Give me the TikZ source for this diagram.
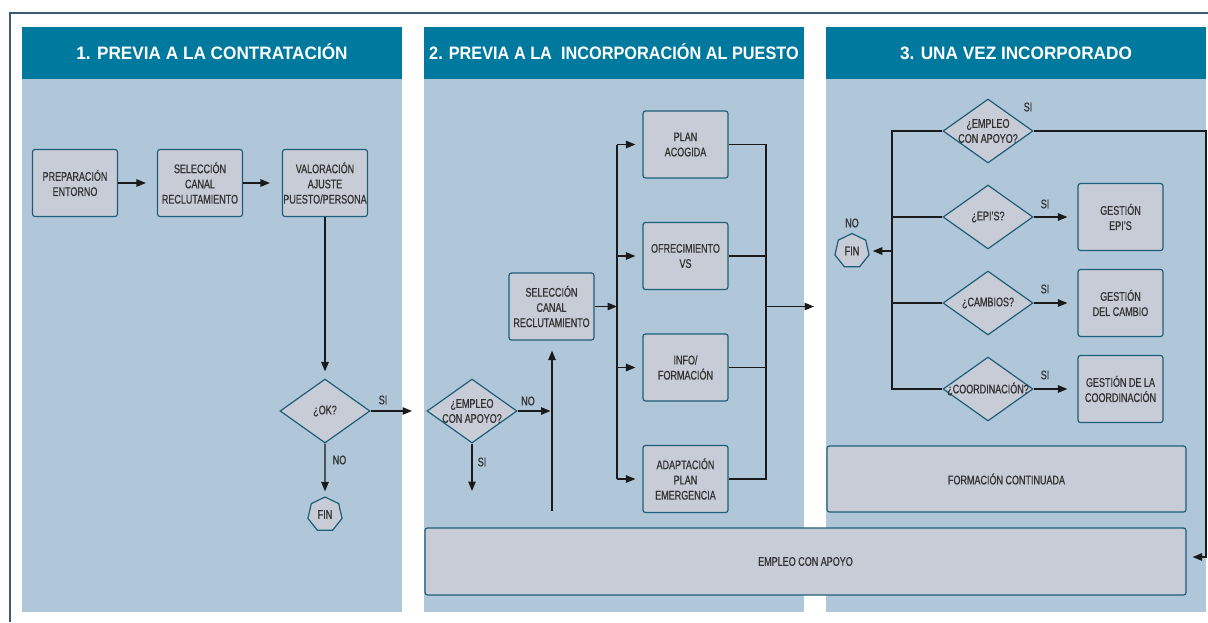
\documentclass[tikz,border=0pt]{standalone}
\usepackage{fontspec}
\setmainfont{Liberation Sans}[FakeStretch=0.72,FakeBold=0.6]
\newfontfamily\hdrfont{Liberation Sans}[FakeStretch=0.955]
\newfontfamily\hdrfontn{Liberation Sans}[FakeStretch=0.905]
\usetikzlibrary{arrows.meta,shapes.geometric,calc}
\definecolor{hdr}{HTML}{00799F}
\definecolor{panel}{HTML}{B0C7DA}
\definecolor{boxfill}{HTML}{C8CCD6}
\definecolor{boxline}{HTML}{1E5E79}
\definecolor{txt}{HTML}{333333}
\definecolor{framec}{HTML}{3F5B73}
\definecolor{connc}{HTML}{1A1A1A}
\tikzset{
 box/.style={draw=boxline, fill=boxfill, line width=1.2pt, rounded corners=2.5pt,
   minimum width=85pt, minimum height=67pt, align=center, text=txt,
   font=\fontsize{12.5}{15.2}\selectfont, inner sep=0pt},
 dia/.style={diamond, draw=boxline, fill=boxfill, line width=1.2pt,
   minimum width=90pt, minimum height=64pt, inner sep=0pt},
 dtext/.style={text=txt, align=center, font=\fontsize{12.5}{15}\selectfont, inner sep=0pt},
 finnode/.style={regular polygon, regular polygon sides=7, draw=boxline, fill=boxfill,
   line width=1.2pt, minimum size=35pt, inner sep=0pt, text=txt, font=\fontsize{12.5}{14}\selectfont},
 lbl/.style={text=txt, font=\fontsize{12.5}{14}\selectfont, inner sep=0pt},
 conn/.style={draw=connc, line width=1.3pt},
 arr/.style={conn, -{Triangle[length=9.5pt,width=7.5pt]}},
 hdrbox/.style={fill=hdr, minimum width=380pt, minimum height=52pt, inner sep=0pt,
   text=white, text height=12.9pt, text depth=0pt},
}
\begin{document}
\begin{tikzpicture}[x=1pt,y=-1pt]
\useasboundingbox (0,0) rectangle (1208,622);
\fill[white] (0,0) rectangle (1208,622);
% frame
\draw[framec, line width=2pt] (10,622) -- (10,12.5) -- (1208,12.5);
% panels
\fill[panel] (22,79) rectangle (402,611.5);
\fill[panel] (424,79) rectangle (804,611.5);
\fill[panel] (826,79) rectangle (1206,611.5);
\node[hdrbox, font=\hdrfont\bfseries\fontsize{18}{20}\selectfont] (h1) at (212,53) {1. PREVIA A LA CONTRATACIÓN};
\node[hdrbox, font=\hdrfontn\bfseries\fontsize{18}{20}\selectfont] (h2) at (614,53) {2. PREVIA A LA\ \ INCORPORACIÓN AL PUESTO};
\node[hdrbox, font=\hdrfont\bfseries\fontsize{18}{20}\selectfont] (h3) at (1016,53) {3. UNA VEZ INCORPORADO};

% panel 1
\node[box] (prep) at (75,183) {PREPARACIÓN\\ENTORNO};
\node[box] (sel1) at (200,183) {SELECCIÓN\\CANAL\\RECLUTAMIENTO};
\node[box] (val) at (325,183) {VALORACIÓN\\AJUSTE\\PUESTO/PERSONA};
\node[dia, label={[dtext]center:{¿OK?}}] (ok) at (325,411) {};
\node[finnode] (fin1) at (325,514.5) {FIN};
\coordinate (okSI) at (412,411);
\node[lbl] (lsi1) at (383,400) {SI};
\node[lbl] (lno1) at (339.5,460) {NO};
\draw[arr, shorten >=11pt] (prep) -- (sel1);
\draw[arr, shorten >=12pt] (sel1) -- (val);
\draw[arr, shorten >=7pt] (val) -- (ok);
\draw[arr] (ok.east) -- (okSI);
\draw[arr, shorten >=5pt] (ok) -- (fin1);

% panel 2
\node[dia, label={[dtext]center:{¿EMPLEO\\CON APOYO?}}] (emp2) at (472,411) {};
\node[box] (sel2) at (551.5,306.5) {SELECCIÓN\\CANAL\\RECLUTAMIENTO};
\node[box] (plan) at (685.5,144.5) {PLAN\\ACOGIDA};
\node[box] (ofrec) at (685.5,256) {OFRECIMIENTO\\VS};
\node[box] (info) at (685.5,367.5) {INFO/\\FORMACIÓN};
\node[box] (adapt) at (685.5,479) {ADAPTACIÓN\\PLAN\\EMERGENCIA};
\coordinate (vup) at (552,511);
\coordinate (emp2SI) at (472,491);
\coordinate (busL) at (617,300);
\coordinate (busR) at (766,300);
\coordinate (out2) at (814,306.5);
\node[lbl] (lno2) at (528,401) {NO};
\node[lbl] (lsi2) at (482,462) {SI};
\draw[arr, shorten >=1.5pt] (emp2.east) -- (emp2.east -| vup);
\draw[arr] (emp2.south) -- (emp2SI);
\draw[arr, shorten >=10pt] (vup) -- (vup |- sel2.south);
\draw[arr] (sel2.east) -- (sel2.east -| busL);
\draw[conn] (plan.west -| busL) -- (adapt.west -| busL);
\draw[arr, shorten >=7pt] (plan.west -| busL) -- (plan.west);
\draw[arr, shorten >=7pt] (ofrec.west -| busL) -- (ofrec.west);
\draw[arr, shorten >=7pt] (info.west -| busL) -- (info.west);
\draw[arr, shorten >=7pt] (adapt.west -| busL) -- (adapt.west);
\draw[conn] (plan.east) -| (adapt.east -| busR) -- (adapt.east);
\draw[conn] (ofrec.east) -- (ofrec.east -| busR);
\draw[conn] (info.east) -- (info.east -| busR);
\draw[arr] (sel2.east -| busR) -- (out2);

% panel 3
\node[dia, label={[dtext]center:{¿EMPLEO\\CON APOYO?}}] (e3) at (988,131) {};
\node[dia, label={[dtext]center:{¿EPI’S?}}] (epi) at (988,217) {};
\node[dia, label={[dtext]center:{¿CAMBIOS?}}] (camb) at (988,303) {};
\node[dia, label={[dtext]center:{¿COORDINACIÓN?}}] (coord) at (988,389) {};
\node[box] (gepi) at (1120.5,217) {GESTIÓN\\EPI’S};
\node[box] (gcamb) at (1120.5,303) {GESTIÓN\\DEL CAMBIO};
\node[box] (gcoord) at (1120.5,389) {GESTIÓN DE LA\\COORDINACIÓN};
\node[finnode] (fin3) at (852,251) {FIN};
\node[box, minimum width=359pt, minimum height=66pt] (form) at (1006.5,479) {FORMACIÓN CONTINUADA};
\node[box, minimum width=761pt, minimum height=67pt] (empleo) at (805.5,561.5) {EMPLEO CON APOYO};
\coordinate (bus3) at (892,300);
\coordinate (c3r) at (1206,557);
\node[lbl] (lsi3) at (1028,107) {SI};
\node[lbl] (lsi4) at (1045,204) {SI};
\node[lbl] (lsi5) at (1045,289) {SI};
\node[lbl] (lsi6) at (1045,375) {SI};
\node[lbl] (lno3) at (852,223) {NO};
\draw[conn] (e3.west) -| (coord.west -| bus3) -- (coord.west);
\draw[conn] (epi.west) -- (epi.west -| bus3);
\draw[conn] (camb.west) -- (camb.west -| bus3);
\draw[arr, shorten >=4pt] (fin3.east -| bus3) -- (fin3.east);
\draw[arr, shorten >=10pt] (epi.east) -- (epi.east -| gepi.west);
\draw[arr, shorten >=10pt] (camb.east) -- (camb.east -| gcamb.west);
\draw[arr, shorten >=10pt] (coord.east) -- (coord.east -| gcoord.west);
\draw[arr, shorten >=6pt] (e3.east) -| (c3r) -- (c3r -| empleo.east);
\end{tikzpicture}
\end{document}
